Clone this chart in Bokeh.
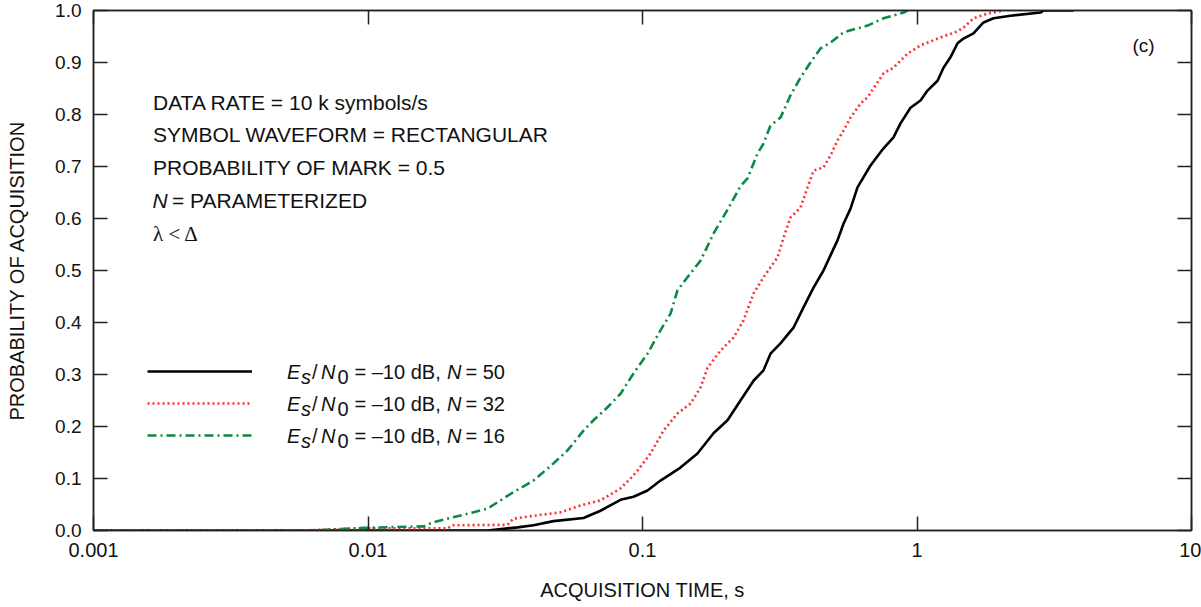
import numpy as np
from bokeh.plotting import figure
from bokeh.models import (Range1d, FixedTicker, PrintfTickFormatter, LinearAxis, LogAxis,
                          Label, Legend, LegendItem)
from bokeh.core.properties import value
from bokeh.embed import file_html
from bokeh.resources import INLINE

# ---------------- data ----------------
# acquisition time [s] and probability of acquisition, N = 50 (black solid)
t_n50 = [0.001, 0.02725, 0.03505, 0.04007, 0.0474, 0.06097, 0.07031, 0.08318, 0.09273, 0.1043,
         0.1163, 0.1375, 0.1586, 0.1814, 0.2040, 0.2275, 0.2538, 0.2760, 0.2926, 0.3182,
         0.3549, 0.3859, 0.4198, 0.4564, 0.4840, 0.5133, 0.5398, 0.5726, 0.6070, 0.6770,
         0.7551, 0.8210, 0.8708, 0.9469, 1.030, 1.092, 1.188, 1.249, 1.324, 1.405,
         1.477, 1.606, 1.747, 1.900, 2.191, 2.818, 2.889, 3.717]
p_n50 = [0.0, 0.0, 0.006, 0.010, 0.018, 0.024, 0.038, 0.059, 0.065, 0.077,
         0.096, 0.121, 0.148, 0.187, 0.212, 0.250, 0.288, 0.308, 0.340, 0.360,
         0.390, 0.429, 0.467, 0.500, 0.529, 0.558, 0.590, 0.619, 0.660, 0.702,
         0.735, 0.756, 0.783, 0.813, 0.827, 0.846, 0.865, 0.890, 0.910, 0.937,
         0.946, 0.956, 0.977, 0.985, 0.990, 0.996, 1.0, 1.0]

# N = 32 (red dotted)
t_n32 = [0.001, 0.00568, 0.00939, 0.01949, 0.02032, 0.03224, 0.03390, 0.05028, 0.05943, 0.07031,
         0.08318, 0.09044, 0.09590, 0.1069, 0.1193, 0.1341, 0.1496, 0.1627, 0.1725, 0.1924,
         0.2146, 0.2333, 0.2538, 0.2760, 0.3103, 0.3264, 0.3462, 0.3763, 0.3992, 0.4198,
         0.4564, 0.4840, 0.5133, 0.5398, 0.5726, 0.6227, 0.6602, 0.7551, 0.8210, 0.9235,
         1.030, 1.218, 1.405, 1.477, 1.606, 1.806, 2.066]
p_n32 = [0.0, 0.0, 0.004, 0.004, 0.010, 0.011, 0.023, 0.035, 0.048, 0.058,
         0.081, 0.100, 0.115, 0.148, 0.192, 0.225, 0.244, 0.275, 0.313, 0.346,
         0.371, 0.404, 0.456, 0.487, 0.525, 0.563, 0.602, 0.621, 0.660, 0.692,
         0.698, 0.721, 0.750, 0.769, 0.794, 0.821, 0.833, 0.879, 0.890, 0.917,
         0.933, 0.948, 0.960, 0.967, 0.985, 0.994, 1.0]

# N = 16 (green dash-dot)
t_n16 = [0.001, 0.00617, 0.00749, 0.00963, 0.01593, 0.01732, 0.02423, 0.02725, 0.03390, 0.04007,
         0.04740, 0.05331, 0.06097, 0.06630, 0.07457, 0.08318, 0.09273, 0.1043, 0.1163, 0.1265,
         0.1341, 0.1458, 0.1627, 0.1814, 0.2040, 0.2275, 0.2413, 0.2624, 0.2760, 0.2926,
         0.3182, 0.3462, 0.3763, 0.4093, 0.4451, 0.4840, 0.5398, 0.6602, 0.7551, 0.8929,
         0.9235]
p_n16 = [0.0, 0.0, 0.002, 0.005, 0.008, 0.016, 0.035, 0.042, 0.074, 0.096,
         0.129, 0.154, 0.192, 0.212, 0.237, 0.263, 0.302, 0.340, 0.385, 0.417,
         0.462, 0.487, 0.519, 0.571, 0.617, 0.662, 0.677, 0.725, 0.744, 0.779,
         0.794, 0.837, 0.871, 0.900, 0.927, 0.938, 0.958, 0.971, 0.985, 0.996,
         1.0]

series_n = [50, 32, 16]
series_esn0_db = [-10, -10, -10]

x_ticks = [0.001, 0.01, 0.1, 1, 10]
x_tick_labels = ["0.001", "0.01", "0.1", "1", "10"]
y_ticks = [0.0, 0.1, 0.2, 0.3, 0.4, 0.5, 0.6, 0.7, 0.8, 0.9, 1.0]
y_tick_labels = ["0.0", "0.1", "0.2", "0.3", "0.4", "0.5", "0.6", "0.7", "0.8", "0.9", "1.0"]

info_lines = ["DATA RATE = 10 k symbols/s", "SYMBOL WAVEFORM = RECTANGULAR",
              "PROBABILITY OF MARK = 0.5"]
param_line = ("N", "= PARAMETERIZED")
cond_line = "\u03bb < \u0394"
panel_tag = "(c)"
x_title = "ACQUISITION TIME, s"
y_title = "PROBABILITY OF ACQUISITION"

# ---------------- styling / layout ----------------
X_LO, X_HI, Y_LO, Y_HI = 0.001, 10.0, 0.0, 1.0
FL, FR, FT, FB = 93, 1191, 10, 530   # frame edges in page pixels
FONT = "Liberation Sans"
INK = "#111111"
AX = "#222222"
RED = "#ff2e2e"
GREEN = "#0b8a45"


def X(px):
    lo, hi = np.log10(X_LO), np.log10(X_HI)
    return float(10 ** (lo + (hi - lo) * (px - FL) / (FR - FL)))


def Y(py):
    return float(Y_LO + (Y_HI - Y_LO) * (FB - py) / (FB - FT))


p = figure(x_axis_type="log", x_range=Range1d(X_LO, X_HI), y_range=Range1d(Y_LO, Y_HI),
           frame_width=FR - FL, frame_height=FB - FT,
           min_border_left=FL, min_border_right=10,
           min_border_top=FT, min_border_bottom=75,
           output_backend="svg", toolbar_location=None,
           background_fill_color="white", border_fill_color="white",
           outline_line_color=AX, outline_line_width=1.5)
p.xgrid.visible = False
p.ygrid.visible = False


def style_axis(ax, labels=True):
    ax.major_tick_in = 14
    ax.major_tick_out = 0
    ax.minor_tick_in = 0
    ax.minor_tick_out = 0
    ax.major_tick_line_color = AX
    ax.major_tick_line_width = 1.5
    ax.axis_line_color = AX
    ax.axis_line_width = 1.5
    ax.major_label_text_font = FONT
    ax.major_label_text_color = INK
    if labels:
        ax.major_label_text_font_size = "19px"
    else:
        ax.major_label_text_font_size = "1px"
        ax.major_label_text_alpha = 0
        ax.major_label_standoff = 0


xb = p.below[0]
xb.ticker = FixedTicker(ticks=x_ticks)
xb.formatter = PrintfTickFormatter(format="%g")
xb.major_label_overrides = dict(zip(x_ticks, x_tick_labels))
style_axis(xb)
xb.major_label_text_font_size = "20px"
xb.major_label_standoff = 12
xb.axis_label = x_title
xb.axis_label_text_font = FONT
xb.axis_label_text_font_size = "20px"
xb.axis_label_text_font_style = "normal"
xb.axis_label_text_color = INK
xb.axis_label_standoff = 19

yl = p.left[0]
yl.ticker = FixedTicker(ticks=y_ticks)
yl.formatter = PrintfTickFormatter(format="%.1f")
yl.major_label_overrides = dict(zip(y_ticks, y_tick_labels))
style_axis(yl)
yl.major_label_standoff = 12
yl.axis_label = y_title
yl.axis_label_text_font = FONT
yl.axis_label_text_font_size = "20px"
yl.axis_label_text_font_style = "normal"
yl.axis_label_text_color = INK
yl.axis_label_standoff = 24

xt = LogAxis(ticker=FixedTicker(ticks=x_ticks), formatter=PrintfTickFormatter(format="%g"))
style_axis(xt, labels=False)
p.add_layout(xt, "above")
yr = LinearAxis(ticker=FixedTicker(ticks=y_ticks), formatter=PrintfTickFormatter(format="%.1f"))
style_axis(yr, labels=False)
p.add_layout(yr, "right")

# ---------------- curves ----------------
r50 = p.line(t_n50, p_n50, line_color="black", line_width=2.6)
r32 = p.line(t_n32, p_n32, line_color=RED, line_width=2.6, line_dash="2 3")
r16 = p.line(t_n16, p_n16, line_color=GREEN, line_width=2.6, line_dash="9 4 2 4")

legend = Legend(items=[LegendItem(label=value(" "), renderers=[r]) for r in (r50, r32, r16)],
                location=(54, FB - 445), glyph_width=105, glyph_height=20,
                label_height=20, spacing=12, padding=0, margin=0,
                label_standoff=0, label_text_font_size="8px",
                border_line_alpha=0, background_fill_alpha=0)
p.add_layout(legend)


def lab(text, px, py, size="20px", style="normal", font=FONT, align="left"):
    # py is the vertical centre of the capitals
    p.add_layout(Label(x=X(px), y=Y(py), text=text, text_font=font, text_font_size=size,
                       text_font_style=style, text_color=INK, text_align=align,
                       text_baseline="middle"))


# legend texts: E_s/N_0 = -10 dB, N = n
for i, (n, db) in enumerate(zip(series_n, series_esn0_db)):
    c = 371.5 + 32 * i
    lab("E", 286.5, c, style="italic")
    lab("s", 300.5, c + 5, style="italic")
    lab("/", 311.5, c)
    lab("N", 320.5, c, style="italic")
    lab("0", 337.0, c + 5)
    sign = "\u2013" if db < 0 else ""
    lab(f"= {sign}{abs(db)} dB,", 354.0, c)
    lab("N", 446.5, c, style="italic")
    lab(f"= {n}", 465.0, c)

# parameter block
for i, line in enumerate(info_lines):
    lab(line, 152.5, 101.7 + 32.7 * i, size="21px")
lab(param_line[0], 152.0, 199.5, size="21px", style="italic")
lab(param_line[1], 171.5, 199.5, size="21px")
lab(cond_line, 152.5, 233.0, size="21px", font="Liberation Serif")

lab(panel_tag, 1132.0, 45.0, size="19px")

open("out.html", "w").write(file_html(p, INLINE))
